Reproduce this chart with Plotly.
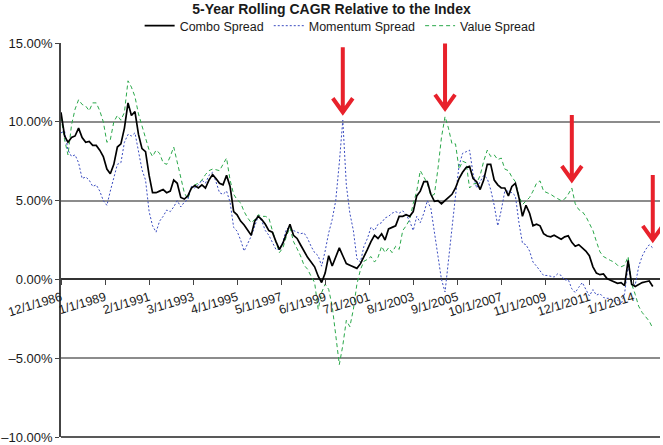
import pandas as pd
import plotly.graph_objects as go

# monthly series sampled every 2 months, starting 12/1/1986 (values in %)
START = "1986-12-01"

combo = [
    10.6, 9.1, 8.7, 9.0, 9.1, 9.6, 9.0, 8.7, 8.75, 8.5,
    8.5, 8.2, 7.8, 7.0, 6.7, 7.3, 8.4, 8.6, 9.6, 11.2,
    10.4, 10.65, 9.2, 8.3, 8.1, 6.6, 5.5, 5.5, 5.6, 5.7,
    5.5, 5.6, 6.3, 6.1, 5.2, 5.1, 5.3, 5.8, 5.95, 5.8,
    6.0, 5.8, 6.3, 6.65, 6.4, 6.1, 6.0, 6.6, 5.9, 4.3,
    4.1, 3.7, 3.45, 3.1, 2.8, 3.7, 4.0, 3.8, 3.5, 3.1,
    3.0, 2.4, 1.9, 2.3, 2.9, 3.5, 2.8, 2.6, 2.2, 1.8,
    1.4, 1.1, 0.8, 0.2, -0.2, 0.4, 1.5, 0.85, 1.4, 2.0,
    1.5, 1.0, 0.9, 0.8, 0.7, 1.0, 1.5, 1.9, 2.4, 2.8,
    2.6, 2.9, 2.5, 3.2, 3.3, 3.4, 4.0, 4.0, 4.1, 4.0,
    4.3, 5.3, 5.6, 6.2, 6.2, 5.4, 4.95, 5.0, 4.8, 5.0,
    5.2, 5.4, 5.8, 6.4, 6.8, 7.1, 7.17, 6.4, 6.2, 5.7,
    6.3, 7.3, 7.3, 6.3, 6.0, 5.8, 5.8, 5.3, 5.9, 6.1,
    5.2, 4.0, 4.7, 4.2, 3.4, 3.5, 3.4, 2.9, 2.75, 2.7,
    2.8, 2.65, 2.55, 2.7, 2.77, 2.35, 2.1, 2.2, 2.0, 1.8,
    1.5, 0.8, 0.4, 0.3, 0.35, 0.05, -0.05, -0.15, -0.25, -0.2,
    -0.4, 1.2, -0.3, -0.45, -0.3, -0.2, -0.15, -0.1, -0.45,
]

momentum = [
    9.3, 9.4, 8.2, 7.8, 7.9, 7.4, 6.4, 6.5, 6.3, 5.9,
    6.0, 5.6, 5.0, 4.7, 5.6, 6.5, 7.3, 7.4, 8.7, 9.2,
    9.1, 9.3, 8.2, 6.96, 6.3, 4.3, 3.4, 3.0, 3.7, 4.0,
    4.4, 4.3, 4.6, 5.0, 4.6, 4.9, 5.06, 5.9, 5.8, 6.0,
    6.3, 6.1, 6.6, 6.8, 6.2, 5.5, 5.4, 5.6, 4.9, 3.3,
    3.06, 2.5, 1.8, 2.3, 2.74, 3.4, 4.0, 3.7, 3.1, 2.8,
    2.3, 1.9, 1.9, 2.4, 3.2, 3.3, 3.1, 3.0, 2.9, 2.95,
    2.6, 2.1, 1.7, 1.5, 0.84, 1.8, 2.95, 3.8, 5.0, 7.4,
    10.1, 6.0, 4.2, 3.1, 1.3, 1.1, 2.1, 2.6, 3.3, 3.1,
    3.5, 3.6, 3.9, 4.0, 4.2, 4.3, 4.2, 4.35, 4.1, 3.7,
    3.1, 4.0, 3.6, 4.2, 5.0, 4.5, 3.0, 1.4, 0.0, -0.8,
    1.2, 3.6, 5.3, 7.2, 8.0, 8.1, 8.2, 6.7, 5.8, 6.2,
    6.6, 6.4, 5.7, 4.7, 3.4, 4.4, 5.6, 5.6, 5.5, 5.3,
    3.6, 2.3, 2.2, 1.8, 1.1, 0.84, 0.55, 0.25, 0.25, 0.2,
    0.15, 0.35, 0.25, -0.05, 0.0, -0.6, -0.84, -0.5, -0.2, -0.63,
    -1.05, -0.65, -1.0, -0.9, -1.15, -1.2, -1.2, -1.4, -1.3, -1.6,
    -0.9, 0.84, -0.2, -0.35, 0.8, 1.48, 1.9, 2.2, 2.0,
]

value = [
    10.3, 8.86, 7.9, 9.8, 10.8, 11.4, 11.1, 11.0, 10.7, 11.2,
    11.2, 10.7, 10.0, 8.7, 8.86, 10.0, 10.4, 10.1, 10.6, 12.6,
    12.2, 11.6, 10.5, 9.7, 8.9, 8.2, 7.8, 8.2, 8.0, 7.4,
    7.3, 7.8, 8.4, 7.4, 6.4, 5.5, 5.1, 5.8, 6.0, 6.1,
    6.3, 6.65, 6.9, 7.0, 6.96, 6.9, 7.3, 7.7, 6.3, 5.4,
    5.06, 4.85, 4.3, 3.9, 3.6, 3.8, 4.1, 4.0, 4.0, 3.9,
    3.1, 2.3, 1.7, 2.0, 2.74, 3.3, 2.4, 1.95, 1.5, 0.9,
    0.65, 0.2, -0.2, -1.9, -0.84, -0.3, -0.63, -1.7, -3.5, -5.4,
    -4.2, -2.6, -3.0, -1.9, -0.3, 0.63, 1.15, 1.27, 1.45, 1.1,
    1.4, 2.1, 1.7, 2.0, 1.7, 2.1, 1.9, 3.1, 3.4, 3.8,
    4.8, 5.6, 6.9, 6.5, 6.1, 5.3, 5.4, 7.0, 9.0, 10.33,
    9.6, 8.6, 8.6, 7.0, 7.5, 7.4, 5.8, 6.05, 6.1, 6.6,
    7.5, 8.2, 7.8, 7.9, 7.6, 7.7, 7.0, 6.9, 6.5, 6.2,
    5.3, 4.75, 5.0, 5.2, 5.6, 6.1, 6.25, 5.6, 5.5, 5.4,
    5.25, 5.1, 5.0, 5.1, 5.4, 5.8, 4.8, 4.43, 4.3, 4.0,
    3.6, 3.1, 2.4, 1.75, 1.45, 1.3, 1.2, 1.1, 0.9, 0.8,
    0.9, 1.45, -0.3, -0.95, -1.7, -2.1, -2.4, -2.65, -3.1,
]

tick_dates = [
    "1986-12-01", "1989-01-01", "1991-02-01", "1993-03-01", "1995-04-01",
    "1997-05-01", "1999-06-01", "2001-07-01", "2003-08-01", "2005-09-01",
    "2007-10-01", "2009-11-01", "2011-12-01", "2014-01-01",
]
tick_labels = [
    "12/1/1986", "1/1/1989", "2/1/1991", "3/1/1993", "4/1/1995",
    "5/1/1997", "6/1/1999", "7/1/2001", "8/1/2003", "9/1/2005",
    "10/1/2007", "11/1/2009", "12/1/2011", "1/1/2014",
]
y_ticks = [-10, -5, 0, 5, 10, 15]
y_labels = ["\u201310.00%", "\u20135.00%", "0.00%", "5.00%", "10.00%", "15.00%"]

# red arrows point at these peaks
arrow_dates = ["2000-04-01", "2005-02-01", "2011-02-01", "2014-12-01"]
arrow_series = ["momentum", "value", "value", "momentum"]

Y_MIN, Y_MAX = -10, 15
FONT = "Liberation Sans, Arial, sans-serif"

dates = pd.date_range(START, periods=len(combo), freq="2MS")
series = {
    "combo": pd.Series(combo, index=dates),
    "momentum": pd.Series(momentum, index=dates),
    "value": pd.Series(value, index=dates),
}

fig = go.Figure()
fig.add_trace(go.Scatter(
    x=dates, y=value, mode="lines", name="Value Spread",
    line=dict(color="#2aa84a", width=1, dash="4px,3px"),
))
fig.add_trace(go.Scatter(
    x=dates, y=momentum, mode="lines", name="Momentum Spread",
    line=dict(color="#3a4cc0", width=1, dash="2px,2px"),
))
fig.add_trace(go.Scatter(
    x=dates, y=combo, mode="lines", name="Combo Spread",
    line=dict(color="#000000", width=1.7),
))

for d, s in zip(arrow_dates, arrow_series):
    fig.add_shape(
        type="path",
        xref="x", yref="y",
        xsizemode="pixel", ysizemode="pixel",
        xanchor=d, yanchor=float(series[s][pd.Timestamp(d)]),
        path="M0,73 L0,8 M-10,22 L0,8 L10,22",
        line=dict(color="#e8212b", width=4),
    )

# dark frame line along the bottom of the plot
fig.add_shape(
    type="line", xref="paper", yref="paper",
    x0=0, x1=1, y0=0, y1=0,
    line=dict(color="#222222", width=1.5),
)

zero_pos = (0 - Y_MIN) / (Y_MAX - Y_MIN)

fig.update_layout(
    width=663,
    height=445,
    margin=dict(l=61, r=3, t=43, b=8),
    plot_bgcolor="white",
    paper_bgcolor="white",
    font=dict(family=FONT, size=12, color="#1a1a1a"),
    title=dict(
        text="<b>5-Year Rolling CAGR Relative to the Index</b>",
        x=0.5, xanchor="center",
        y=1 - 9 / 445, yref="container", yanchor="middle",
        font=dict(size=14),
    ),
    legend=dict(
        orientation="h",
        x=0.466, xanchor="center",
        y=1.043, yanchor="middle",
        traceorder="reversed",
        font=dict(size=12.5),
        bgcolor="rgba(0,0,0,0)",
    ),
    showlegend=True,
)

fig.update_xaxes(
    type="date",
    range=["1986-12-01", "2015-04-05"],
    anchor="free",
    position=zero_pos,
    tickmode="array",
    tickvals=tick_dates,
    ticktext=tick_labels,
    tickangle=-17,
    ticks="outside",
    ticklen=5,
    tickcolor="#444444",
    showgrid=False,
    showline=False,
    zeroline=False,
    automargin=False,
    tickfont=dict(size=12.5),
)

fig.update_yaxes(
    range=[Y_MIN, Y_MAX],
    tickmode="array",
    tickvals=y_ticks,
    ticktext=y_labels,
    ticks="outside",
    ticklen=4,
    tickcolor="#444444",
    showline=True,
    linecolor="#444444",
    linewidth=1.5,
    showgrid=True,
    gridcolor="#8c8c8c",
    gridwidth=2,
    zeroline=True,
    zerolinecolor="#333333",
    zerolinewidth=1.5,
    automargin=False,
    tickfont=dict(size=13),
)

fig.write_html(
    "out.html",
    config={"displayModeBar": False},
    post_script="document.body.style.margin = '0';",
)
